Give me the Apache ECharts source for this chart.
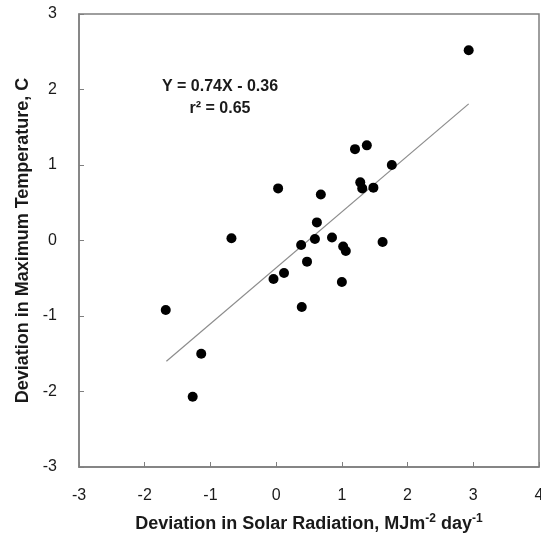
<!DOCTYPE html>
<html>
<head>
<meta charset="utf-8">
<script src="https://cdn.jsdelivr.net/npm/echarts@6/dist/echarts.min.js"></script>
<style>html,body{margin:0;padding:0;background:#fff;overflow:hidden}#c{width:541px;height:537px}</style>
</head>
<body>
<div id="c"></div>
<script>
const solarDev = [2.93, 1.20, 1.38, 1.76, 1.28, 1.31, 1.48, 0.03, 0.68, 0.62, 0.59, 0.38, 0.85, 1.02, 1.06, 1.62, 0.47, -0.04, 0.12, 1.00, 0.39, -0.68, -1.68, -1.14, -1.27];
const tmaxDev  = [2.52, 1.21, 1.26, 1.00, 0.77, 0.69, 0.70, 0.69, 0.61, 0.24, 0.02, -0.06, 0.04, -0.08, -0.14, -0.02, -0.28, -0.51, -0.43, -0.55, -0.88, 0.03, -0.92, -1.50, -2.07];
const trendX = [-1.67, 2.93];
const trendY = [-1.60, 1.81];
const xTicks = [-3, -2, -1, 0, 1, 2, 3, 4];
const yTicks = [-3, -2, -1, 0, 1, 2, 3];
const eqLine1 = 'Y = 0.74X - 0.36';
const eqLine2 = 'r² = 0.65';

const chart = echarts.init(document.getElementById('c'), null, {renderer: 'canvas'});
const axisCol = '#7f7f7f';
const font = 'Liberation Sans, Arial, sans-serif';
chart.setOption({
  animation: false,
  grid: {left: 79, right: 2, top: 14, bottom: 70, show: true, borderColor: axisCol, borderWidth: 1.5, containLabel: false, outerBoundsMode: 'none'},
  xAxis: {
    type: 'value', min: xTicks[0], max: xTicks[xTicks.length - 1], interval: 1,
    axisLine: {show: true, onZero: false, lineStyle: {color: axisCol, width: 1.5}},
    axisTick: {show: true, inside: true, length: 5, lineStyle: {color: axisCol}},
    splitLine: {show: false},
    axisLabel: {color: '#1a1a1a', fontSize: 16, fontFamily: font, margin: 21, hideOverlap: false},
    name: '{n|Deviation in Solar Radiation, MJm}{s|-2}{n| day}{s|-1}',
    nameLocation: 'middle', nameGap: 46,
    nameTextStyle: {
      rich: {
        n: {fontSize: 18, fontWeight: 'bold', fontFamily: font, color: '#1a1a1a', verticalAlign: 'bottom', lineHeight: 20},
        s: {fontSize: 12, fontWeight: 'bold', fontFamily: font, color: '#1a1a1a', verticalAlign: 'top', padding: [0, 0, 8, 0], lineHeight: 20}
      }
    }
  },
  yAxis: {
    type: 'value', min: yTicks[0], max: yTicks[yTicks.length - 1], interval: 1,
    axisLine: {show: true, onZero: false, lineStyle: {color: axisCol, width: 1.5}},
    axisTick: {show: true, inside: true, length: 5, lineStyle: {color: axisCol}},
    splitLine: {show: false},
    axisLabel: {color: '#1a1a1a', fontSize: 16, fontFamily: font, margin: 22},
    name: 'Deviation in Maximum Temperature, C',
    nameLocation: 'middle', nameGap: 47,
    nameTextStyle: {fontSize: 18, fontWeight: 'bold', fontFamily: font, color: '#1a1a1a'}
  },
  series: [
    {
      type: 'line', data: trendX.map((x, i) => [x, trendY[i]]),
      symbol: 'none', lineStyle: {color: '#8c8c8c', width: 1.2}, silent: true, z: 1
    },
    {
      type: 'scatter', data: solarDev.map((x, i) => [x, tmaxDev[i]]),
      symbol: 'circle', symbolSize: 10, itemStyle: {color: '#000', opacity: 1}, z: 3
    }
  ],
  graphic: [
    {type: 'text', z: 10, style: {text: eqLine1, x: 220, y: 87, align: 'center', verticalAlign: 'middle', font: 'bold 16px ' + font, fill: '#1a1a1a'}},
    {type: 'text', z: 10, style: {text: eqLine2, x: 220, y: 109, align: 'center', verticalAlign: 'middle', font: 'bold 16px ' + font, fill: '#1a1a1a'}}
  ]
});
</script>
</body>
</html>
